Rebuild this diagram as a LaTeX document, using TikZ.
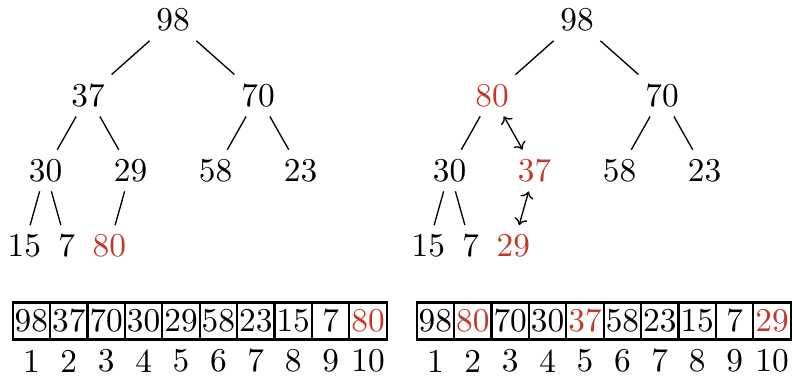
\documentclass[tikz,border=0pt]{standalone}
\usetikzlibrary{arrows.meta}
\definecolor{hred}{RGB}{192,57,43}
\begin{document}
\begin{tikzpicture}[x=0.3pt,y=-0.3pt,
  tn/.style={inner sep=2.6pt},
  hl/.style={text=hred},
  cell/.style={draw, line width=0.7pt, minimum width=11.22pt, minimum height=11.1pt, inner sep=0pt},
  idx/.style={inner sep=1pt},
  tedge/.style={line width=0.4pt},
  swap/.style={{To[length=2pt,width=4pt]}-{To[length=2pt,width=4pt]}, line width=0.4pt, shorten <=0pt, shorten >=0pt}]
\useasboundingbox (0,0) rectangle (792,375);
% left tree
\node[tn] (a1) at (173,20) {98};
\node[tn] (a2) at (88,95.5) {37};
\node[tn] (a3) at (258,95.5) {70};
\node[tn] (a4) at (45.5,170.5) {30};
\node[tn] (a5) at (130.5,170.5) {29};
\node[tn] (a6) at (215.5,170.5) {58};
\node[tn] (a7) at (300.5,170.5) {23};
\node[tn] (a8) at (24.25,246) {15};
\node[tn] (a9) at (66.75,246) {7};
\node[tn,hl] (a10) at (109.25,246) {80};
\foreach \p/\c in {a1/a2,a1/a3,a2/a4,a2/a5,a3/a6,a3/a7,a4/a8,a4/a9,a5/a10}
  \draw[tedge] (\p) -- (\c);
% right tree
\node[tn] (b1) at (577,20) {98};
\node[tn,hl] (b2) at (492,95.5) {80};
\node[tn] (b3) at (662,95.5) {70};
\node[tn] (b4) at (449.5,170.5) {30};
\node[tn,hl] (b5) at (534.5,170.5) {37};
\node[tn] (b6) at (619.5,170.5) {58};
\node[tn] (b7) at (704.5,170.5) {23};
\node[tn] (b8) at (428.25,246) {15};
\node[tn] (b9) at (470.75,246) {7};
\node[tn,hl] (b10) at (513.25,246) {29};
\foreach \p/\c in {b1/b2,b1/b3,b2/b4,b3/b6,b3/b7,b4/b8,b4/b9}
  \draw[tedge] (\p) -- (\c);
\draw[swap] (b2) -- (b5);
\draw[swap] (b5) -- (b10);
% arrays
\foreach \v/\c [count=\i] in {98/black,37/black,70/black,30/black,29/black,58/black,23/black,15/black,7/black,80/hred}{
  \node[cell,text=\c] (L\i) at ({31.4+(\i-1)*37.4},321) {\v};
  \node[idx] (Li\i) at ({31.4+(\i-1)*37.4},361) {\i};
}
\foreach \v/\c [count=\i] in {98/black,80/hred,70/black,30/black,37/hred,58/black,23/black,15/black,7/black,29/hred}{
  \node[cell,text=\c] (R\i) at ({435.4+(\i-1)*37.4},321) {\v};
  \node[idx] (Ri\i) at ({435.4+(\i-1)*37.4},361) {\i};
}
\end{tikzpicture}
\end{document}
